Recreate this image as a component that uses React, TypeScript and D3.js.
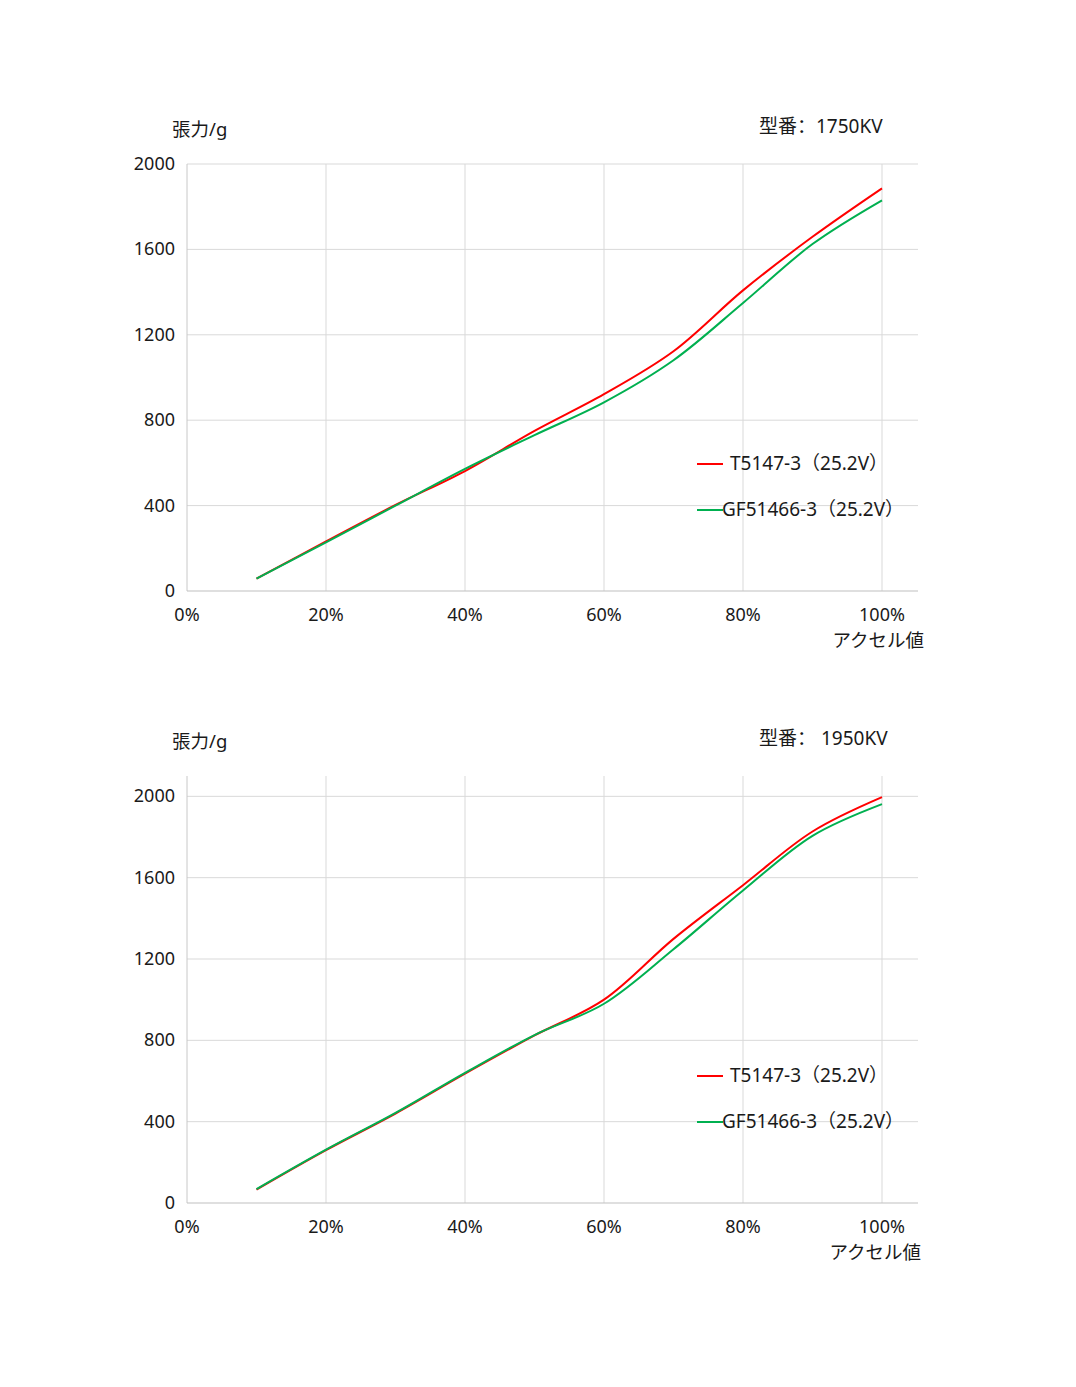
import { useEffect, useRef } from 'react';
import * as d3 from 'd3';

// throttle %, shared by both charts
const throttle = [10, 20, 30, 40, 50, 60, 70, 80, 90, 100];
const xTicks = [0, 20, 40, 60, 80, 100];
const yTicks = [0, 400, 800, 1200, 1600, 2000];

const seriesNames = ['T5147-3（25.2V）', 'GF51466-3（25.2V）'];
const seriesColors = ['#ff0000', '#00b050'];

// 1750KV
const kv1750Red = [58, 232, 403, 562, 750, 922, 1123, 1408, 1659, 1886];
const kv1750Green = [58, 228, 400, 572, 730, 884, 1081, 1349, 1625, 1830];

// 1950KV
const kv1950Red = [66, 260, 440, 636, 824, 1000, 1299, 1563, 1827, 1996];
const kv1950Green = [68, 262, 443, 640, 826, 980, 1248, 1537, 1806, 1962];

type ChartProps = {
  top: number;
  yMax: number;
  model: string;
  series: number[][];
  xLabelDy: number;
};

const FONT = '"Noto Sans", "Noto Sans CJK SC", sans-serif';

function Chart({ top, yMax, model, series, xLabelDy }: ChartProps) {
  const ref = useRef<SVGGElement>(null);

  useEffect(() => {
    if (!ref.current) return;
    const g = d3.select(ref.current);
    g.selectAll('*').remove();

    const left = 187;
    const right = 918;
    const plotH = 427;

    const x = d3.scaleLinear().domain([0, 100]).range([left, 882]);
    const y = d3.scaleLinear().domain([0, yMax]).range([top + plotH, top]);
    const bottom = top + plotH;

    // horizontal grid
    g.append('g')
      .selectAll('line')
      .data(yTicks.filter(t => t > 0))
      .enter()
      .append('line')
      .attr('x1', left)
      .attr('x2', right)
      .attr('y1', d => y(d))
      .attr('y2', d => y(d))
      .attr('stroke', '#d9d9d9')
      .attr('stroke-width', 1);

    // vertical grid
    g.append('g')
      .selectAll('line')
      .data(xTicks)
      .enter()
      .append('line')
      .attr('x1', d => x(d))
      .attr('x2', d => x(d))
      .attr('y1', top)
      .attr('y2', bottom)
      .attr('stroke', d => (d === 0 ? '#c8c8c8' : '#d9d9d9'))
      .attr('stroke-width', 1);

    // x axis line
    g.append('line')
      .attr('x1', left)
      .attr('x2', right)
      .attr('y1', bottom)
      .attr('y2', bottom)
      .attr('stroke', '#bfbfbf')
      .attr('stroke-width', 1.2);

    // y tick labels
    g.append('g')
      .selectAll('text')
      .data(yTicks)
      .enter()
      .append('text')
      .text(d => d)
      .attr('x', 175)
      .attr('y', d => y(d) + 6)
      .attr('text-anchor', 'end')
      .style('font-size', '18px');

    // x tick labels
    g.append('g')
      .selectAll('text')
      .data(xTicks)
      .enter()
      .append('text')
      .text(d => `${d}%`)
      .attr('x', d => x(d))
      .attr('y', bottom + 30)
      .attr('text-anchor', 'middle')
      .style('font-size', '18px');

    g.append('text')
      .text('アクセル値')
      .attr('x', 924 - xLabelDy)
      .attr('y', bottom + 56)
      .attr('text-anchor', 'end')
      .style('font-size', '18.5px');

    g.append('text')
      .text('張力/g')
      .attr('x', 172)
      .attr('y', top - 28)
      .style('font-size', '18.5px');

    g.append('text')
      .text(model)
      .attr('x', 759)
      .attr('y', top - 31)
      .style('font-size', '19px');

    const line = d3
      .line<number>()
      .x((_, i) => x(throttle[i]))
      .y(d => y(d))
      .curve(d3.curveCatmullRom.alpha(0.5));

    // red first, green drawn over it as in the reference
    series.forEach((s, si) => {
      g.append('path')
        .attr('d', line(s) ?? '')
        .attr('fill', 'none')
        .attr('stroke', seriesColors[si])
        .attr('stroke-width', 2);
    });

    // legend
    const legendY = [top + 300, top + 346];
    const textX = [730, 722];
    seriesNames.forEach((name, i) => {
      g.append('line')
        .attr('x1', 697)
        .attr('x2', 723)
        .attr('y1', legendY[i])
        .attr('y2', legendY[i])
        .attr('stroke', seriesColors[i])
        .attr('stroke-width', 2);
      g.append('text')
        .text(name)
        .attr('x', textX[i])
        .attr('y', legendY[i] + 6)
        .style('font-size', '19px');
    });
  }, [top, yMax, model, series, xLabelDy]);

  return <g ref={ref} fill="#1a1a1a" style={{ fontFamily: FONT }} />;
}

export default function App() {
  return (
    <svg
      width={1076}
      height={1387}
      style={{ display: 'block', margin: '-8px', background: '#fff' }}
    >
      <Chart top={164} yMax={2000} model="型番：1750KV" series={[kv1750Red, kv1750Green]} xLabelDy={0} />
      <Chart top={776} yMax={2100} model="型番： 1950KV" series={[kv1950Red, kv1950Green]} xLabelDy={3} />
    </svg>
  );
}
